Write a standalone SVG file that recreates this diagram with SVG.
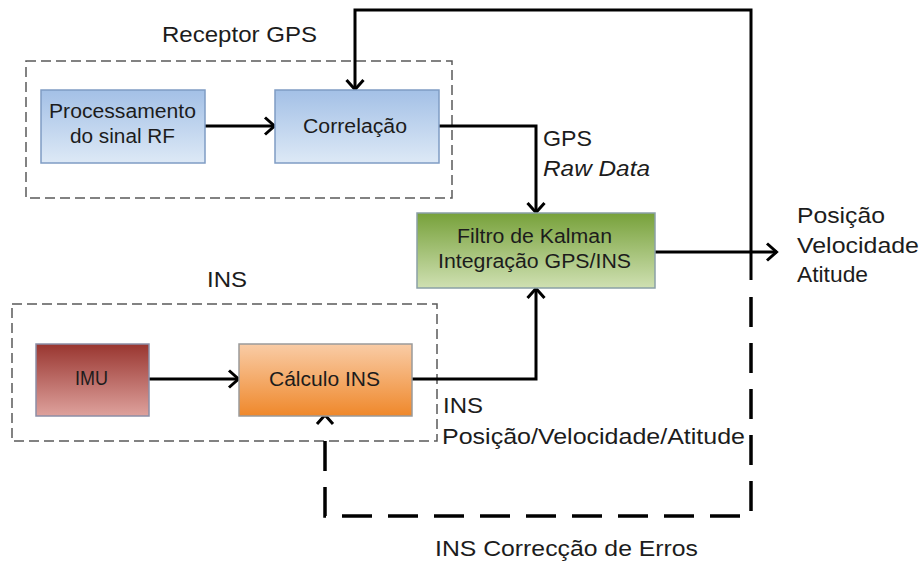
<svg xmlns="http://www.w3.org/2000/svg" width="922" height="564" viewBox="0 0 922 564">
<defs>
<linearGradient id="gBlue" x1="0" y1="0" x2="0" y2="1"><stop offset="0" stop-color="#a3c0e6"/><stop offset="1" stop-color="#dde9f6"/></linearGradient>
<linearGradient id="gGreen" x1="0" y1="0" x2="0" y2="1"><stop offset="0" stop-color="#77a13a"/><stop offset="1" stop-color="#cfe0b2"/></linearGradient>
<linearGradient id="gRed" x1="0" y1="0" x2="0" y2="1"><stop offset="0" stop-color="#993630"/><stop offset="1" stop-color="#dea29d"/></linearGradient>
<linearGradient id="gOrange" x1="0" y1="0" x2="0" y2="1"><stop offset="0" stop-color="#f9cca6"/><stop offset="1" stop-color="#ef882b"/></linearGradient>
<marker id="arr" markerUnits="userSpaceOnUse" markerWidth="16" markerHeight="22" refX="13" refY="11" orient="auto" overflow="visible">
<path d="M3,2.5 L12.5,11 L3,19.5" fill="none" stroke="#000" stroke-width="3"/>
</marker>
<style>
.grp{fill:none;stroke:#5a5a5a;stroke-width:1.5;stroke-dasharray:10 5}
.box{stroke-width:1.5}
.t{font-family:"Liberation Sans",Arial,sans-serif;fill:#1c1c1c}
.bt{font-size:20px}
.lt{font-size:22px}
.c{fill:none;stroke:#000;stroke-width:3}
.d{fill:none;stroke:#000;stroke-width:3.5;stroke-dasharray:30 16}
</style>
</defs>
<rect width="922" height="564" fill="#fff"/>

<g id="grp-receptor">
<rect class="grp" x="26" y="61" width="426" height="137"/>
<text class="t lt" x="162" y="42" textLength="155" lengthAdjust="spacingAndGlyphs">Receptor GPS</text>
</g>
<g id="grp-ins">
<rect class="grp" x="12" y="304" width="425" height="137"/>
<text class="t lt" x="207" y="287" textLength="40" lengthAdjust="spacingAndGlyphs">INS</text>
</g>

<g id="connectors">
<path class="c" d="M205,126 H275" marker-end="url(#arr)"/>
<path class="c" d="M439,126 H536 V213" marker-end="url(#arr)"/>
<path class="c" d="M149,379 H239" marker-end="url(#arr)"/>
<path class="c" d="M412,379 H536 V288" marker-end="url(#arr)"/>
<path class="c" d="M655,252 H777" marker-end="url(#arr)"/>
<path class="c" d="M751,280 V10 H355 V90" marker-end="url(#arr)"/>
<path class="d" d="M751,297 V516 H325 V440"/>
<path class="c" d="M317,424 L325,415 L333,424"/>
</g>

<g id="n-proc">
<rect class="box" x="41" y="90" width="164" height="73" fill="url(#gBlue)" stroke="#7f9cc4"/>
<text class="t bt" x="49" y="118" textLength="147" lengthAdjust="spacingAndGlyphs">Processamento</text>
<text class="t bt" x="70" y="143" textLength="105" lengthAdjust="spacingAndGlyphs">do sinal RF</text>
</g>
<g id="n-corr">
<rect class="box" x="275" y="90" width="164" height="73" fill="url(#gBlue)" stroke="#7f9cc4"/>
<text class="t bt" x="303" y="133" textLength="104" lengthAdjust="spacingAndGlyphs">Correlação</text>
</g>
<g id="n-kalman">
<rect class="box" x="417" y="213" width="238" height="75" fill="url(#gGreen)" stroke="#8aa0a6"/>
<text class="t bt" x="457" y="243" textLength="155" lengthAdjust="spacingAndGlyphs">Filtro de Kalman</text>
<text class="t bt" x="438" y="268" textLength="193" lengthAdjust="spacingAndGlyphs">Integração GPS/INS</text>
</g>
<g id="n-imu">
<rect class="box" x="36" y="344" width="113" height="72" fill="url(#gRed)" stroke="#8c8ea6"/>
<text class="t bt" x="75" y="385" textLength="33" lengthAdjust="spacingAndGlyphs">IMU</text>
</g>
<g id="n-calc">
<rect class="box" x="239" y="344" width="173" height="72" fill="url(#gOrange)" stroke="#9a9a9a"/>
<text class="t bt" x="269" y="386" textLength="111" lengthAdjust="spacingAndGlyphs">Cálculo INS</text>
</g>

<g id="labels">
<text class="t lt" x="543" y="146" textLength="49" lengthAdjust="spacingAndGlyphs">GPS</text>
<text class="t lt" x="543" y="176" font-style="italic" textLength="107" lengthAdjust="spacingAndGlyphs">Raw Data</text>
<text class="t lt" x="797" y="223" textLength="88" lengthAdjust="spacingAndGlyphs">Posição</text>
<text class="t lt" x="797" y="253" textLength="122" lengthAdjust="spacingAndGlyphs">Velocidade</text>
<text class="t lt" x="797" y="282" textLength="71" lengthAdjust="spacingAndGlyphs">Atitude</text>
<text class="t lt" x="443" y="413" textLength="40" lengthAdjust="spacingAndGlyphs">INS</text>
<text class="t lt" x="442" y="444" textLength="303" lengthAdjust="spacingAndGlyphs">Posição/Velocidade/Atitude</text>
<text class="t lt" x="435" y="556" textLength="263" lengthAdjust="spacingAndGlyphs">INS Correcção de Erros</text>
</g>
</svg>
